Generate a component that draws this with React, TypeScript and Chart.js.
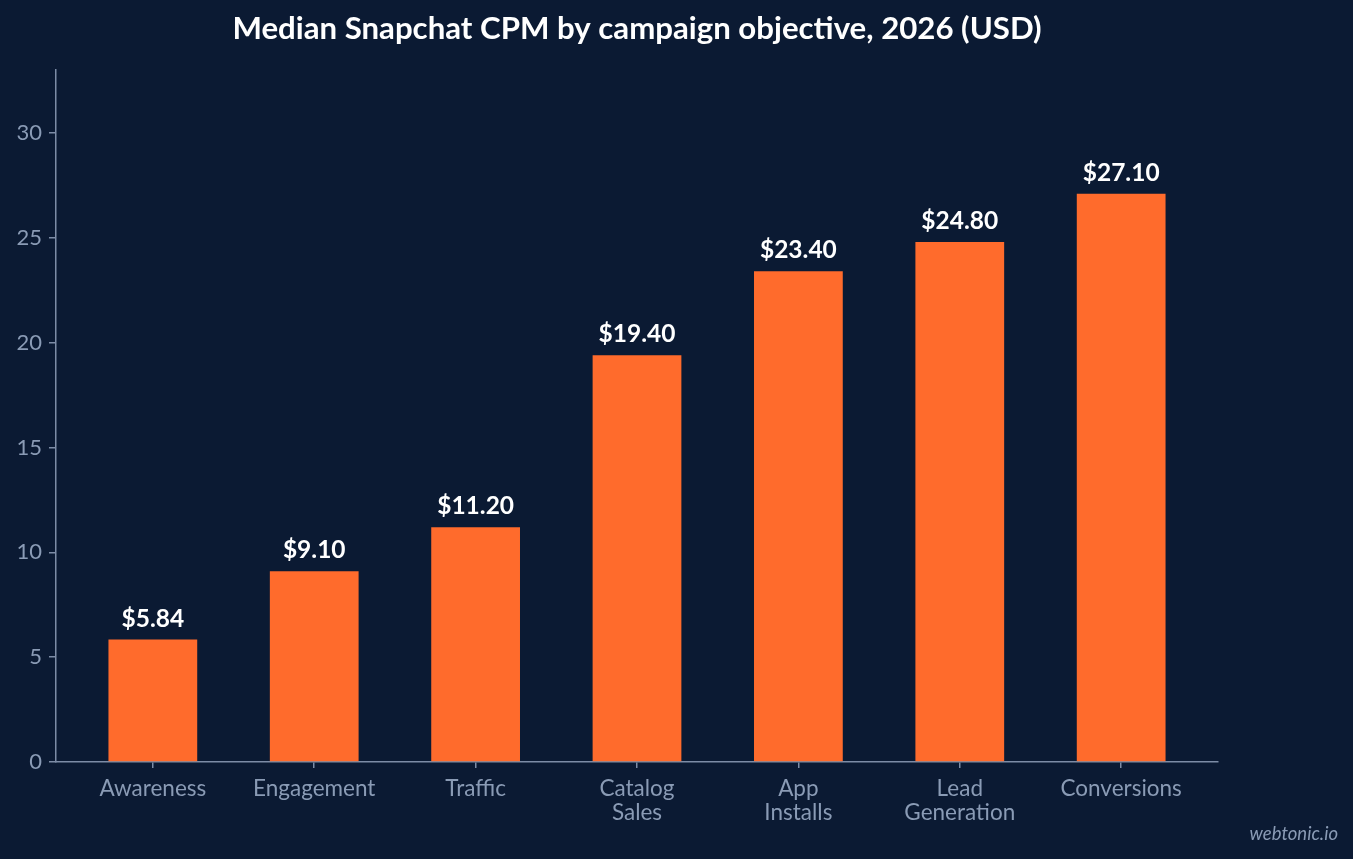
import { useEffect, useRef } from 'react';
import { Chart, registerables } from 'chart.js';

Chart.register(...registerables);

// campaign objectives, left to right
const objectives: (string | string[])[] = [
  'Awareness',
  'Engagement',
  'Traffic',
  ['Catalog', 'Sales'],
  ['App', 'Installs'],
  ['Lead', 'Generation'],
  'Conversions',
];
const cpmValues = [5.84, 9.1, 11.2, 19.4, 23.4, 24.8, 27.1];
const yTicks = [0, 5, 10, 15, 20, 25, 30];

const BG = '#0b1a33';
const BAR = '#ff6b2c';
const MUTED = '#8a9bb5';
const AXIS = '#7d8ca6';
const FONT = 'Lato, "Noto Sans", sans-serif';

const overlay = {
  id: 'overlay',
  beforeDraw(chart: Chart) {
    const { ctx, width, height } = chart;
    ctx.save();
    ctx.fillStyle = BG;
    ctx.fillRect(0, 0, width, height);
    ctx.restore();
  },
  afterDraw(chart: Chart) {
    const { ctx, chartArea } = chart;
    ctx.save();
    // title
    ctx.fillStyle = '#ffffff';
    ctx.font = `bold 31.2px ${FONT}`;
    ctx.textAlign = 'center';
    ctx.textBaseline = 'middle';
    ctx.fillText('Median Snapchat CPM by campaign objective, 2026 (USD)', (chartArea.left + chartArea.right) / 2, 29);

    // value labels
    const meta = chart.getDatasetMeta(0);
    ctx.font = `bold 24.5px ${FONT}`;
    ctx.textBaseline = 'alphabetic';
    meta.data.forEach((bar: any, i: number) => {
      ctx.fillText(`$${cpmValues[i].toFixed(2)}`, bar.x, bar.y - 13);
    });

    // watermark
    ctx.fillStyle = MUTED;
    ctx.font = `italic 18.5px ${FONT}`;
    ctx.textAlign = 'right';
    ctx.textBaseline = 'middle';
    ctx.fillText('webtonic.io', 1338, 834);
    ctx.restore();
  },
};

export default function App() {
  const canvasRef = useRef<HTMLCanvasElement>(null);
  const chartRef = useRef<Chart | null>(null);

  useEffect(() => {
    document.body.style.margin = '0';
    document.body.style.background = BG;
    if (!canvasRef.current) return;
    if (chartRef.current) chartRef.current.destroy();

    chartRef.current = new Chart(canvasRef.current, {
      type: 'bar',
      data: {
        datasets: [{
          data: cpmValues.map((v, i) => ({ x: i, y: v })),
          backgroundColor: BAR,
          borderWidth: 0,
          barPercentage: 0.55,
          categoryPercentage: 1,
        }],
      },
      options: {
        responsive: false,
        animation: false,
        layout: { padding: { top: 70, right: 135, left: 0, bottom: 0 } },
        plugins: {
          legend: { display: false },
          tooltip: { enabled: false },
        },
        scales: {
          x: {
            type: 'linear',
            min: -0.6,
            max: 6.6,
            offset: false,
            afterBuildTicks: (s: any) => { s.ticks = objectives.map((_, i) => ({ value: i })); },
            afterFit: (s: any) => { s.height = 97; },
            border: { display: true, color: AXIS, width: 1.5 },
            grid: { display: true, offset: false, drawOnChartArea: false, drawTicks: true, tickLength: 6, tickColor: AXIS, color: AXIS, tickWidth: 1.5, lineWidth: 1.5 },
            ticks: {
              color: MUTED,
              font: { family: FONT, size: 22.5, lineHeight: 1.07 },
              padding: 9,
              maxRotation: 0,
              autoSkip: false,
              callback: (v: any) => objectives[v as number],
            },
          },
          y: {
            min: 0,
            max: 33,
            afterBuildTicks: (s: any) => { s.ticks = yTicks.map((v) => ({ value: v })); },
            afterFit: (s: any) => { s.width = 56; },
            border: { display: true, color: AXIS, width: 1.5 },
            grid: { display: true, drawOnChartArea: false, drawTicks: true, tickLength: 7, tickColor: AXIS, color: AXIS, lineWidth: 1.5 },
            ticks: {
              color: MUTED,
              font: { family: FONT, size: 22 },
              padding: 7,
            },
          },
        },
      },
      plugins: [overlay],
    });

    return () => {
      if (chartRef.current) {
        chartRef.current.destroy();
        chartRef.current = null;
      }
    };
  }, []);

  return (
    <div style={{ width: 1353, height: 859, background: BG }}>
      <canvas ref={canvasRef} width={1353} height={859} />
    </div>
  );
}
